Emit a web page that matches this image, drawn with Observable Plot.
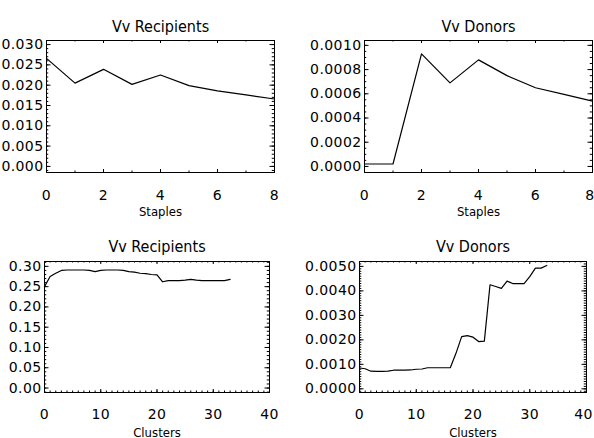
<!DOCTYPE html>
<html><head><meta charset="utf-8">
<script src="https://cdn.jsdelivr.net/npm/d3@7"></script>
<script src="https://cdn.jsdelivr.net/npm/@observablehq/plot@0.6"></script>
<style>
body{margin:0;background:#fff;}
#root{position:relative;width:594px;height:438px;overflow:hidden;background:#fff;}
#root svg{position:absolute;}
</style></head><body><div id="root"></div>
<script>
// ---- data ----
const staples = [0, 1, 2, 3, 4, 5, 6, 7, 8];
const staplesRecipients = [0.0266, 0.0205, 0.0239, 0.0202, 0.0225, 0.0199, 0.0186, 0.0176, 0.0166];
const staplesDonors = [0.00002, 0.00002, 0.00093, 0.00069, 0.00088, 0.00075, 0.00065, 0.000595, 0.00054];

const clusters = [0, 1, 2, 3, 4, 5, 6, 7, 8, 9, 10, 11, 12, 13, 14, 15, 16,
  17, 18, 19, 20, 21, 22, 23, 24, 25, 26, 27, 28, 29, 30, 31, 32, 33];
const clustersRecipients = [0.250, 0.275, 0.283, 0.290, 0.291, 0.291, 0.291, 0.291, 0.290, 0.287,
  0.290, 0.291, 0.291, 0.291, 0.290, 0.287, 0.286, 0.283, 0.282, 0.280, 0.279,
  0.262, 0.265, 0.265, 0.265, 0.266, 0.268, 0.266, 0.265, 0.265, 0.265, 0.265, 0.265, 0.268];
const clustersDonors = [0.00085, 0.00082, 0.00072, 0.00071, 0.00071, 0.00072, 0.00076, 0.00076, 0.00076, 0.00077,
  0.00080, 0.00081, 0.00086, 0.00086, 0.00086, 0.00086, 0.00086, 0.00145, 0.00213, 0.00217, 0.00211,
  0.00193, 0.00195, 0.00425, 0.00418, 0.00410, 0.00440, 0.00430, 0.00430, 0.00430, 0.00458, 0.00493, 0.00493, 0.00504];

// tick labels
const staplesTicks = ["0", "2", "4", "6", "8"];
const clustersTicks = ["0", "10", "20", "30", "40"];
const yTicksRecipientsStaples = ["0.000", "0.005", "0.010", "0.015", "0.020", "0.025", "0.030"];
const yTicksDonorsStaples = ["0.0000", "0.0002", "0.0004", "0.0006", "0.0008", "0.0010"];
const yTicksRecipientsClusters = ["0.00", "0.05", "0.10", "0.15", "0.20", "0.25", "0.30"];
const yTicksDonorsClusters = ["0.0000", "0.0010", "0.0020", "0.0030", "0.0040", "0.0050"];

const titles = ["Vv Recipients", "Vv Donors", "Vv Recipients", "Vv Donors"];
const xLabels = ["Staples", "Staples", "Clusters", "Clusters"];

// ---- drawing ----
const FONT = "'DejaVu Sans', sans-serif";
const FONTC = "'DejaVu Sans Condensed', 'DejaVu Sans', sans-serif";

function minors(lo, hi, step) {
  const n = Math.round((hi - lo) / step);
  return d3.range(n + 1).map(i => +(lo + i * step).toPrecision(10));
}

function panel(cfg) {
  const W = 297, H = 219;
  const iw = W - cfg.ml - cfg.mr, ih = H - cfg.mt - cfg.mb;
  const data = cfg.xs.map((x, i) => ({x, y: cfg.ys[i]}));
  const xMaj = cfg.xTicks.map(Number), yMaj = cfg.yTicks.map(Number);
  const YL = cfg.yLen, YS = cfg.yLen / 2, XL = cfg.xLen, XS = cfg.xLen / 2;
  const lastX = cfg.xTicks[cfg.xTicks.length - 1];
  const svg = Plot.plot({
    width: W, height: H,
    marginLeft: cfg.ml, marginRight: cfg.mr, marginTop: cfg.mt, marginBottom: cfg.mb,
    x: {domain: cfg.xDomain, axis: null},
    y: {domain: cfg.yDomain, axis: null},
    style: {background: "white", color: "black", fontFamily: FONT, overflow: "visible"},
    marks: [
      // minor ticks
      Plot.tickY(cfg.yMinor, {y: d => d, insetRight: iw - YS, stroke: "black"}),
      Plot.tickY(cfg.yMinor, {y: d => d, insetLeft: iw - YS, stroke: "black"}),
      Plot.tickX(cfg.xMinor, {x: d => d, insetTop: ih - XS, stroke: "black"}),
      Plot.tickX(cfg.xMinor, {x: d => d, insetBottom: ih - XS, stroke: "black"}),
      // major ticks
      Plot.tickY(yMaj, {y: d => d, insetRight: iw - YL, stroke: "black"}),
      Plot.tickY(yMaj, {y: d => d, insetLeft: iw - YL, stroke: "black"}),
      Plot.tickX(xMaj, {x: d => d, insetTop: ih - XL, stroke: "black"}),
      Plot.tickX(xMaj, {x: d => d, insetBottom: ih - XL, stroke: "black"}),
      Plot.frame({stroke: "black"}),
      Plot.line(data, {x: "x", y: "y", stroke: "black", strokeWidth: 1.2}),
      // tick labels
      Plot.text(cfg.yTicks, {y: d => +d, text: d => d, frameAnchor: "left", dx: -3, textAnchor: "end",
        fontSize: 14, fontFamily: FONT, fill: "black", className: "ticklab"}),
      Plot.text(cfg.xTicks.filter(d => d !== lastX), {x: d => +d, text: d => d, frameAnchor: "bottom", dy: cfg.xTickDy, lineAnchor: "bottom",
        fontSize: 14, fontFamily: FONT, fill: "black", className: "ticklab"}),
      Plot.text([lastX], {x: d => +d, text: d => d, frameAnchor: "bottom", dy: cfg.xTickDy, dx: cfg.lastDx, lineAnchor: "bottom",
        fontSize: 14, fontFamily: FONT, fill: "black", className: "ticklab"}),
      // title and axis label
      Plot.text([cfg.title], {frameAnchor: "top", dy: cfg.titleDy, lineAnchor: "bottom",
        fontSize: 16, fontFamily: FONTC, fill: "black"}),
      Plot.text([cfg.xLabel], {frameAnchor: "bottom", dy: cfg.xLabelDy, lineAnchor: "bottom",
        fontSize: 13, fontFamily: FONTC, fill: "black"})
    ]
  });
  svg.style.left = cfg.left + "px";
  svg.style.top = cfg.top + "px";
  svg.querySelectorAll("g.ticklab text").forEach(t => t.setAttribute("letter-spacing", "0.4"));
  document.getElementById("root").appendChild(svg);
}

panel({left: 0, top: 0, ml: 46, mr: 23, mt: 40, mb: 47,
  xs: staples, ys: staplesRecipients, xDomain: [0, 8], yDomain: [-0.0015, 0.031],
  xTicks: staplesTicks, yTicks: yTicksRecipientsStaples,
  xMinor: minors(0, 8, 1), yMinor: minors(-0.001, 0.031, 0.001),
  yLen: 4.5, xLen: 3, xTickDy: 27, titleDy: -9, xLabelDy: 43, lastDx: 0,
  title: titles[0], xLabel: xLabels[0]});

panel({left: 297, top: 0, ml: 67, mr: 2, mt: 40, mb: 47,
  xs: staples, ys: staplesDonors, xDomain: [0, 8], yDomain: [-0.00005, 0.00104],
  xTicks: staplesTicks, yTicks: yTicksDonorsStaples,
  xMinor: minors(0, 8, 1), yMinor: minors(0, 0.001, 0.00005),
  yLen: 4.5, xLen: 3, xTickDy: 27, titleDy: -9, xLabelDy: 43, lastDx: -2.5,
  title: titles[1], xLabel: xLabels[1]});

panel({left: 0, top: 219, ml: 44, mr: 28, mt: 42, mb: 46,
  xs: clusters, ys: clustersRecipients, xDomain: [0, 40], yDomain: [-0.011, 0.312],
  xTicks: clustersTicks, yTicks: yTicksRecipientsClusters,
  xMinor: minors(0, 40, 1), yMinor: minors(-0.01, 0.31, 0.01),
  yLen: 4.5, xLen: 3, xTickDy: 26, titleDy: -10, xLabelDy: 44, lastDx: 0,
  title: titles[2], xLabel: xLabels[2]});

panel({left: 297, top: 219, ml: 62, mr: 8, mt: 42, mb: 46,
  xs: clusters, ys: clustersDonors, xDomain: [0, 40], yDomain: [-0.00015, 0.0052],
  xTicks: clustersTicks, yTicks: yTicksDonorsClusters,
  xMinor: minors(0, 40, 1), yMinor: minors(-0.0001, 0.0052, 0.0001),
  yLen: 4.5, xLen: 3, xTickDy: 26, titleDy: -10, xLabelDy: 44, lastDx: -3,
  title: titles[3], xLabel: xLabels[3]});
</script>
</body></html>
